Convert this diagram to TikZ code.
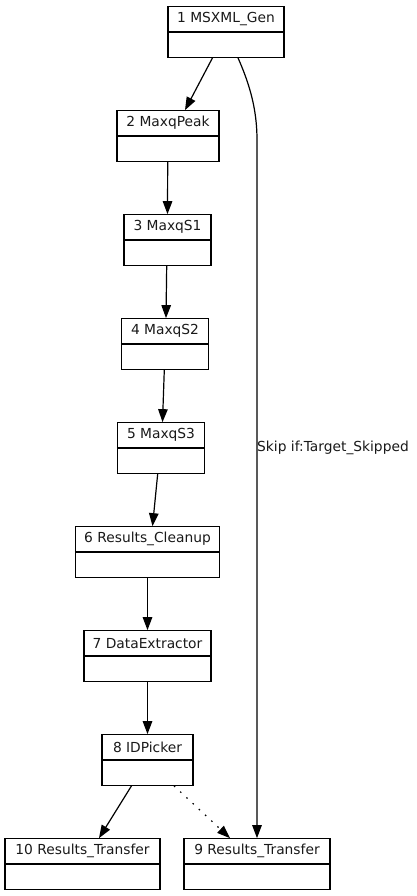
\documentclass[tikz,border=0pt]{standalone}
\usepackage{fontspec}
\setmainfont{DejaVu Sans}
\usetikzlibrary{arrows.meta,calc}
\tikzset{
  box/.style={draw=black, line width=1.2pt, rectangle, inner sep=0pt, minimum height=50.5pt},
  lbl/.style={inner sep=0pt, text=black!90, font=\fontsize{13.8}{16}\selectfont},
  edge/.style={line width=1.2pt, -{Triangle[length=13pt,width=9.5pt]}},
  dotedge/.style={edge, dash pattern=on 1.5pt off 7pt}
}
\newcommand{\mkbox}[5]{%
  \node[box, minimum width=#4pt] (#1) at (#2,#3) {};
  \draw[line width=1.2pt] (#1.west) -- (#1.east);
  \node[lbl] (#1t) at ($(#1.north)!0.5!(#1.center)$) {#5};
}
\begin{document}
\begin{tikzpicture}[x=1pt,y=-1pt]
\useasboundingbox (0,0) rectangle (416,896);
\mkbox{n1}{226}{32}{116}{1 MSXML\_Gen}
\mkbox{n2}{168}{136}{102}{2 MaxqPeak}
\mkbox{n3}{167.5}{240}{87}{3 MaxqS1}
\mkbox{n4}{165}{344}{87}{4 MaxqS2}
\mkbox{n5}{161}{448}{87}{5 MaxqS3}
\mkbox{n6}{147.5}{552}{144}{6 Results\_Cleanup}
\mkbox{n7}{147.5}{656}{127}{7 DataExtractor}
\mkbox{n8}{147.5}{760}{91}{8 IDPicker}
\mkbox{n10}{82.5}{864}{155}{10 Results\_Transfer}
\mkbox{n9}{257}{864}{146}{9 Results\_Transfer}
% edges
\draw[edge] ([xshift=-13.5pt]n1.south) -- ([xshift=17pt]n2.north);
\coordinate (k1) at (257,140);
\draw[edge] ([xshift=12pt]n1.south) .. controls (250,85) and (257,110) .. (k1) -- (n9.north);
\node[lbl, anchor=west] (skip) at (257,448) {Skip if:Target\_Skipped};
\draw[edge] ([xshift=-0.3pt]n2.south) -- (n3.north);
\draw[edge] ([xshift=-0.8pt]n3.south) -- ([xshift=1pt]n4.north);
\draw[edge] ([xshift=-0.7pt]n4.south) -- ([xshift=1.5pt]n5.north);
\draw[edge] ([xshift=-3.3pt]n5.south) -- ([xshift=5pt]n6.north);
\draw[edge] (n6.south) -- (n7.north);
\draw[edge] (n7.south) -- (n8.north);
\draw[edge] ([xshift=-16pt]n8.south) -- ([xshift=16.5pt]n10.north);
\draw[dotedge] ([xshift=26.5pt]n8.south) -- ([xshift=-27pt]n9.north);
\end{tikzpicture}
\end{document}
